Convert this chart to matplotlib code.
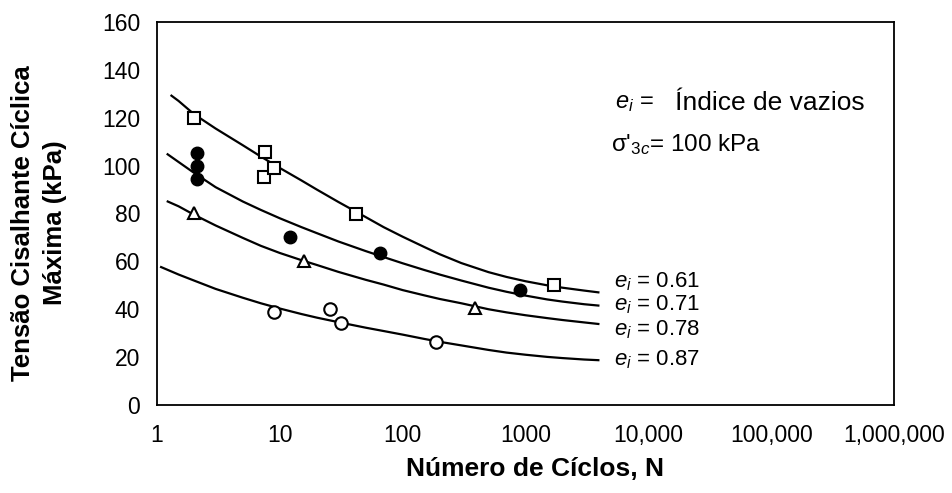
import matplotlib
matplotlib.use("Agg")
import matplotlib.pyplot as plt
from matplotlib import font_manager

plt.rcParams['font.family'] = ['Liberation Sans', 'DejaVu Sans']
plt.rcParams['mathtext.fontset'] = 'custom'
plt.rcParams['mathtext.rm'] = 'Liberation Sans'
plt.rcParams['mathtext.it'] = 'Liberation Sans:italic'

names = {f.name for f in font_manager.fontManager.ttflist}
narrow = 'Liberation Sans Narrow' if 'Liberation Sans Narrow' in names else 'Liberation Sans'

# measured points
sq_n = [2, 7.6, 7.5, 9.0, 42, 1720]
sq_y = [120, 105.8, 95.4, 98.9, 79.7, 50.1]
fc_n = [2.1, 2.1, 2.1, 12, 66, 900]
fc_y = [105.4, 99.8, 94.3, 70.3, 63.4, 48.0]
tr_n = [2, 15.6, 391]
tr_y = [80, 60, 40.4]
oc_n = [9, 25.4, 31.6, 188]
oc_y = [39.0, 40.0, 34.4, 26.2]

# fitted curves
curve_n = [1.5, 2, 3, 5, 7, 10, 15, 20, 30, 50, 70, 100, 150, 200, 300,
           500, 700, 1000, 1500, 2000, 3000, 4000]
c61_y = [127, 121.5, 115.5, 108.5, 103.8, 99, 93.8, 90, 84.8, 78.5, 74.3, 70.3,
         66, 63, 59.3, 55.5, 53.5, 51.7, 50, 49, 47.8, 47]
c71_y = [101.5, 97, 91, 85, 81.5, 78, 74.3, 71.8, 68.3, 64.3, 61.8, 59.2,
         56.4, 54.5, 52, 49, 47.3, 45.7, 44.1, 43.2, 42.1, 41.5]
c78_y = [83, 79.5, 75, 69.8, 66.5, 63.5, 60.5, 58.5, 55.6, 52.3, 50.3, 48,
         45.8, 44.3, 42.5, 40, 38.7, 37.5, 36.3, 35.5, 34.5, 33.8]
c87_y = [54.5, 52, 48.5, 44.8, 42.5, 40.3, 38, 36.5, 34.6, 32.3, 30.9, 29.4,
         27.6, 26.4, 24.9, 23, 21.9, 21, 20.1, 19.6, 19, 18.7]
start_n = [1.29, 1.2, 1.2, 1.06]
start_y = [129.5, 105, 85.2, 57.8]

curve_labels = ['0.61', '0.71', '0.78', '0.87']
label_y = [51.3, 41.8, 31.3, 18.8]

xticks = [1, 10, 100, 1000, 1e4, 1e5, 1e6]
xticklabels = ['1', '10', '100', '1000', '10,000', '100,000', '1,000,000']
yticks = [0, 20, 40, 60, 80, 100, 120, 140, 160]

fig = plt.figure(figsize=(9.52, 4.93), dpi=100)
ax = fig.add_axes([0.1649, 0.1785, 0.7742, 0.7769])

for i, ys in enumerate([c61_y, c71_y, c78_y, c87_y]):
    ax.plot([start_n[i]] + curve_n, [start_y[i]] + ys, color='black', lw=1.6,
            zorder=2, solid_capstyle='butt')

ax.plot(sq_n, sq_y, 's', ms=8, mfc='white', mec='black', mew=1.5, ls='none', zorder=3)
ax.plot(fc_n, fc_y, 'o', ms=9, color='black', ls='none', zorder=3)
ax.plot(tr_n, tr_y, '^', ms=9, mfc='white', mec='black', mew=1.5, ls='none', zorder=3)
ax.plot(oc_n, oc_y, 'o', ms=9, mfc='white', mec='black', mew=1.5, ls='none', zorder=3)

ax.set_xscale('log')
ax.set_xlim(1, 1e6)
ax.set_ylim(0, 160)
ax.set_xticks(xticks)
ax.set_xticklabels(xticklabels)
ax.set_yticks(yticks)
ax.minorticks_off()
ax.tick_params(length=0, labelsize=16.5)
ax.tick_params(axis='x', pad=14)
ax.tick_params(axis='y', pad=12)
for s in ax.spines.values():
    s.set_linewidth(1.3)

for lbl, y in zip(curve_labels, label_y):
    ax.text(5300, y, r'$e_i$ = ' + lbl, fontsize=16, va='center', ha='left')

ax.text(5400, 126, r'$e_i$ =', fontsize=17, va='center', ha='left')
ax.text(16600, 126, 'Índice de vazios', fontsize=19, va='center', ha='left')
ax.text(5000, 108.6, r"σ'$_{3c}$= 100 kPa", fontsize=17.5, va='center', ha='left')

ax.set_xlabel('Número de Cíclos, N', fontsize=19, fontweight='bold', family=narrow)
ax.xaxis.set_label_coords(0.513, -0.135)
ax.set_ylabel('Tensão Cisalhante Cíclica\nMáxima (kPa)', fontsize=18.5,
              fontweight='bold', linespacing=1.45)
ax.yaxis.set_label_coords(-0.122, 0.475)

fig.savefig('out.png', dpi=100)
